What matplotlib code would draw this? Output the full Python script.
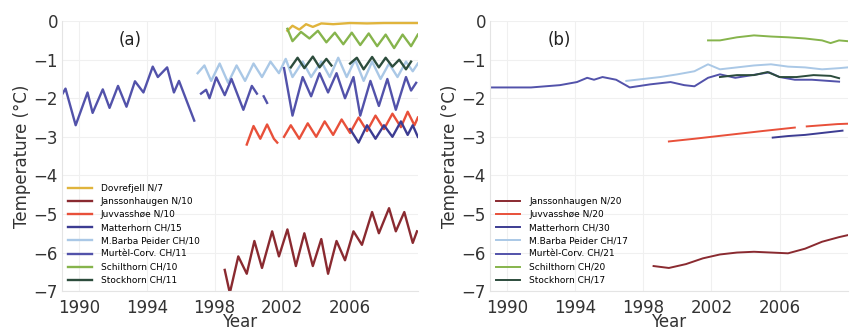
import numpy as np
import matplotlib
matplotlib.use("Agg")
import matplotlib.pyplot as plt

nan = np.nan

# ---- panel (a): seasonal series, read as half-year peaks / troughs ----
dovre_yr = [2002.3, 2002.6, 2003.0, 2003.4, 2003.8, 2004.3, 2005.0, 2006.0, 2007.0, 2008.0, 2009.0, 2010.0]
dovre_t = [-0.25, -0.12, -0.22, -0.08, -0.15, -0.06, -0.08, -0.05, -0.06, -0.05, -0.05, -0.05]

jans_yr = [1998.6, 1998.9, 1999.4, 1999.9, 2000.35, 2000.8, 2001.4, 2001.8, 2002.3, 2002.8, 2003.3,
           2003.8, 2004.3, 2004.7, 2005.2, 2005.7, 2006.2, 2006.7, 2007.3, 2007.7, 2008.3, 2008.7,
           2009.2, 2009.7, 2009.95]
jans_t = [-6.45, -7.05, -6.1, -6.55, -5.7, -6.4, -5.45, -6.1, -5.4, -6.35, -5.5, -6.35, -5.65, -6.55,
          -5.7, -6.2, -5.45, -5.8, -4.95, -5.5, -4.85, -5.45, -4.95, -5.75, -5.45]

juvv_yr = [1999.9, 2000.3, 2000.7, 2001.1, 2001.5, 2001.7, 2001.9, 2002.1, 2002.5, 2003.0, 2003.5,
           2004.0, 2004.5, 2005.0, 2005.5, 2006.0, 2006.5, 2007.0, 2007.5, 2008.0, 2008.5, 2009.0,
           2009.4, 2009.8, 2010.0]
juvv_t = [-3.2, -2.72, -3.05, -2.68, -3.05, -3.15, nan, -3.0, -2.7, -3.05, -2.65, -3.0, -2.6, -2.95,
          -2.55, -2.9, -2.5, -2.85, -2.45, -2.8, -2.4, -2.75, -2.35, -2.7, -2.5]

matt_yr = [2006.0, 2006.5, 2007.0, 2007.5, 2008.0, 2008.5, 2009.0, 2009.4, 2009.7, 2010.0]
matt_t = [-2.8, -3.15, -2.7, -3.05, -2.7, -3.0, -2.6, -2.95, -2.7, -3.0]

barba_yr = [1997.0, 1997.4, 1997.8, 1998.3, 1998.8, 1999.3, 1999.8, 2000.3, 2000.8, 2001.3, 2001.8,
            2002.2, 2002.6, 2003.2, 2003.7, 2004.3, 2004.8, 2005.3, 2005.8, 2006.3, 2006.8, 2007.3,
            2007.8, 2008.3, 2008.8, 2009.3, 2009.7, 2010.0]
barba_t = [-1.35, -1.15, -1.55, -1.1, -1.6, -1.15, -1.55, -1.1, -1.45, -1.05, -1.35, -0.98, -1.45,
           -1.05, -1.45, -1.05, -1.45, -0.95, -1.45, -1.0, -1.55, -1.05, -1.5, -1.1, -1.45, -1.05,
           -1.3, -1.1]

murtel_yr = [1989.0, 1989.2, 1989.8, 1990.5, 1990.8, 1991.4, 1991.8, 1992.3, 1992.8, 1993.3, 1993.8,
             1994.35, 1994.65, 1995.2, 1995.6, 1995.9, 1996.8, 1997.0,
             1997.2, 1997.5, 1997.7, 1998.1, 1998.6, 1999.0, 1999.7, 2000.2, 2000.5, 2000.7,
             2000.9, 2001.1, 2001.5,
             2002.1, 2002.6, 2003.2, 2003.7, 2004.2, 2004.7, 2005.2, 2005.7, 2006.2, 2006.6,
             2007.2, 2007.7, 2008.2, 2008.7, 2009.3, 2009.6, 2009.9]
murtel_t = [-1.9, -1.75, -2.7, -1.85, -2.38, -1.77, -2.25, -1.68, -2.22, -1.56, -1.85,
            -1.18, -1.45, -1.2, -1.85, -1.55, -2.58, nan,
            -1.88, -1.78, -2.0, -1.46, -1.92, -1.5, -2.3, -1.68, -1.88, nan,
            -1.95, -2.12, nan,
            -1.22, -2.45, -1.45, -1.95, -1.35, -1.85, -1.35, -2.0, -1.45, -2.45,
            -1.55, -2.2, -1.5, -2.3, -1.45, -1.8, -1.6]

schilt_yr = [2002.3, 2002.6, 2003.1, 2003.6, 2004.1, 2004.6, 2005.1, 2005.6, 2006.1, 2006.6, 2007.1,
             2007.6, 2008.1, 2008.6, 2009.1, 2009.6, 2010.0]
schilt_t = [-0.2, -0.52, -0.28, -0.45, -0.25, -0.55, -0.3, -0.6, -0.3, -0.62, -0.32, -0.65, -0.35,
            -0.7, -0.35, -0.65, -0.35]

stock_yr = [2002.5, 2002.9, 2003.3, 2003.8, 2004.2, 2004.6, 2004.9, 2005.2, 2006.0, 2006.4, 2006.8,
            2007.3, 2007.7, 2008.1, 2008.5, 2008.9, 2009.3, 2009.6]
stock_t = [-1.2, -0.95, -1.22, -0.92, -1.2, -0.98, -1.15, nan, -1.1, -0.95, -1.25, -0.93, -1.2,
           -0.95, -1.18, -1.0, -1.25, -1.05]

# ---- panel (b): deeper sensors, slow trends ----
b_jans_yr = [1998.6, 1999.5, 2000.5, 2001.5, 2002.5, 2003.5, 2004.5, 2005.5, 2006.5, 2007.5, 2008.5, 2009.5, 2010.0]
b_jans_t = [-6.35, -6.4, -6.3, -6.15, -6.05, -6.0, -5.98, -6.0, -6.02, -5.9, -5.72, -5.6, -5.55]

b_juvv_yr = [1999.5, 2001.0, 2003.0, 2005.0, 2006.9, 2007.2, 2007.6, 2009.4, 2010.0]
b_juvv_t = [-3.12, -3.05, -2.95, -2.85, -2.76, nan, -2.73, -2.67, -2.66]

b_matt_yr = [2005.6, 2006.5, 2007.5, 2008.5, 2009.7]
b_matt_t = [-3.02, -2.98, -2.95, -2.9, -2.84]

b_barba_yr = [1997.0, 1998.0, 1999.0, 2000.0, 2001.0, 2001.8, 2002.5, 2003.5, 2004.5, 2005.5,
              2006.5, 2007.5, 2008.5, 2009.5, 2010.0]
b_barba_t = [-1.55, -1.5, -1.45, -1.38, -1.3, -1.12, -1.25, -1.2, -1.15, -1.12, -1.18, -1.2,
             -1.25, -1.22, -1.2]

b_murtel_yr = [1989.0, 1991.4, 1993.1, 1994.1, 1994.7, 1995.1, 1995.6, 1996.4, 1997.2, 1998.4,
               1999.6, 2000.4, 2001.0, 2001.8, 2002.5, 2003.4, 2004.4, 2005.4, 2006.0, 2006.9,
               2007.9, 2009.5]
b_murtel_t = [-1.72, -1.72, -1.66, -1.58, -1.47, -1.52, -1.45, -1.52, -1.72, -1.64, -1.58, -1.66,
              -1.69, -1.47, -1.38, -1.47, -1.4, -1.33, -1.45, -1.52, -1.52, -1.57]

b_schilt_yr = [2001.8, 2002.5, 2003.5, 2004.5, 2005.5, 2006.5, 2007.5, 2008.5, 2009.0, 2009.5, 2010.0]
b_schilt_t = [-0.5, -0.5, -0.42, -0.37, -0.4, -0.42, -0.45, -0.5, -0.57, -0.5, -0.52]

b_stock_yr = [2002.5, 2003.5, 2004.5, 2005.3, 2006.0, 2007.0, 2008.0, 2009.0, 2009.5]
b_stock_t = [-1.45, -1.4, -1.4, -1.32, -1.45, -1.45, -1.4, -1.42, -1.48]

col = {
    "dovre": "#e0b43c", "jans": "#8a2a30", "juvv": "#e8503a", "matt": "#3c3c92",
    "barba": "#aac8e6", "murtel": "#5252aa", "schilt": "#86b44c", "stock": "#2c4c3c",
}

fig = plt.figure(figsize=(8.51, 3.35), dpi=100)
ax_a = fig.add_axes([0.073, 0.131, 0.418, 0.806])
ax_b = fig.add_axes([0.576, 0.131, 0.420, 0.806])

lw = 1.7
ax_a.plot(dovre_yr, dovre_t, color=col["dovre"], lw=lw, label="Dovrefjell N/7")
ax_a.plot(jans_yr, jans_t, color=col["jans"], lw=lw, label="Janssonhaugen N/10")
ax_a.plot(juvv_yr, juvv_t, color=col["juvv"], lw=lw, label="Juvvasshøe N/10")
ax_a.plot(matt_yr, matt_t, color=col["matt"], lw=lw, label="Matterhorn CH/15")
ax_a.plot(barba_yr, barba_t, color=col["barba"], lw=lw, label="M.Barba Peider CH/10")
ax_a.plot(murtel_yr, murtel_t, color=col["murtel"], lw=lw, label="Murtèl-Corv. CH/11")
ax_a.plot(schilt_yr, schilt_t, color=col["schilt"], lw=lw, label="Schilthorn CH/10")
ax_a.plot(stock_yr, stock_t, color=col["stock"], lw=lw, label="Stockhorn CH/11")

lw_b = 1.4
ax_b.plot(b_jans_yr, b_jans_t, color=col["jans"], lw=lw_b, label="Janssonhaugen N/20")
ax_b.plot(b_juvv_yr, b_juvv_t, color=col["juvv"], lw=lw_b, label="Juvvasshøe N/20")
ax_b.plot(b_matt_yr, b_matt_t, color=col["matt"], lw=lw_b, label="Matterhorn CH/30")
ax_b.plot(b_barba_yr, b_barba_t, color=col["barba"], lw=lw_b, label="M.Barba Peider CH/17")
ax_b.plot(b_murtel_yr, b_murtel_t, color=col["murtel"], lw=lw_b, label="Murtèl-Corv. CH/21")
ax_b.plot(b_schilt_yr, b_schilt_t, color=col["schilt"], lw=lw_b, label="Schilthorn CH/20")
ax_b.plot(b_stock_yr, b_stock_t, color=col["stock"], lw=lw_b, label="Stockhorn CH/17")

for ax, tag in [(ax_a, "(a)"), (ax_b, "(b)")]:
    ax.set_xlim(1989, 2010)
    ax.set_ylim(-7, 0)
    ax.set_xticks([1990, 1994, 1998, 2002, 2006])
    ax.set_yticks(range(-7, 1))
    ax.tick_params(length=0, labelsize=12, colors="#333333")
    ax.tick_params(axis="x", pad=6)
    ax.tick_params(axis="y", pad=3)
    ax.grid(True, color="#f0f0f0", lw=0.8)
    for s in ["top", "right"]:
        ax.spines[s].set_visible(False)
    for s in ["left", "bottom"]:
        ax.spines[s].set_color("#e4e4e4")
    ax.set_xlabel("Year", fontsize=12, color="#333333", labelpad=-3)
    ax.set_ylabel("Temperature (°C)", fontsize=12, color="#333333", labelpad=2)
    ax.text(0.16, 0.91, tag, transform=ax.transAxes, fontsize=12, color="#222222")
    ax.legend(loc="lower left", bbox_to_anchor=(0.0, 0.0), frameon=False, fontsize=6.5,
              handlelength=2.6, handletextpad=1.0, labelspacing=0.45, borderaxespad=0.3)

fig.savefig("out.png", dpi=100)
